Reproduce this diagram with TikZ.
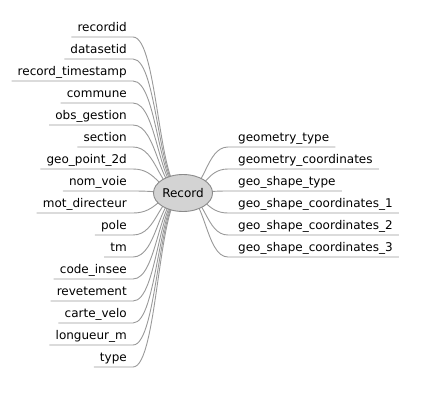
\documentclass[tikz,border=0pt]{standalone}
\usepackage{fontspec}
\setmainfont{DejaVu Sans}
\usetikzlibrary{shapes.geometric}
\usetikzlibrary{backgrounds}
\definecolor{linkgray}{HTML}{999999}
\definecolor{rootfill}{HTML}{D3D3D3}
\definecolor{rootdraw}{HTML}{8A8A8A}

\tikzset{
  link/.style={draw=linkgray, line width=0.9pt},
  lbl/.style={inner xsep=6pt, inner ysep=0pt, text depth=5pt, font=\fontsize{12pt}{14pt}\selectfont},
  leftlbl/.style={lbl, anchor=south east},
  rightlbl/.style={lbl, anchor=south west},
  rootnode/.style={ellipse, draw=rootdraw, fill=rootfill, line width=0.9pt, minimum width=59pt, minimum height=37pt, inner sep=0pt, font=\fontsize{12pt}{14pt}\selectfont}
}

\begin{document}
\begin{tikzpicture}[x=1pt,y=-1pt]
\useasboundingbox (0,0) rectangle (426,418);

\node[rootnode] (root) at (183,193) {Record};

\begin{scope}[on background layer]
% left branch
\foreach \nm/\txt [count=\i from 0] in {recordid/recordid, datasetid/datasetid,
    recordtimestamp/record\_timestamp, commune/commune, obsgestion/obs\_gestion,
    section/section, geopoint/geo\_point\_2d, nomvoie/nom\_voie,
    motdirecteur/mot\_directeur, pole/pole, tm/tm, codeinsee/code\_insee,
    revetement/revetement, cartevelo/carte\_velo, longueur/longueur\_m, type/type}{
  \node[leftlbl] (\nm) at (133,37+22*\i) {\txt};
  \draw[link] (root.center) .. controls +(-25,0) and +(25,0) .. (\nm.south east) -- (\nm.south west);
}

% right branch
\foreach \nm/\txt [count=\i from 0] in {geomtype/geometry\_type,
    geomcoords/geometry\_coordinates, shapetype/geo\_shape\_type,
    shapeone/geo\_shape\_coordinates\_1, shapetwo/geo\_shape\_coordinates\_2,
    shapethree/geo\_shape\_coordinates\_3}{
  \node[rightlbl] (\nm) at (232,147+22*\i) {\txt};
  \draw[link] (root.center) .. controls +(22.5,0) and +(-22.5,0) .. ([xshift=-4pt]\nm.south west) -- (\nm.south east);
}
\end{scope}

\end{tikzpicture}
\end{document}
